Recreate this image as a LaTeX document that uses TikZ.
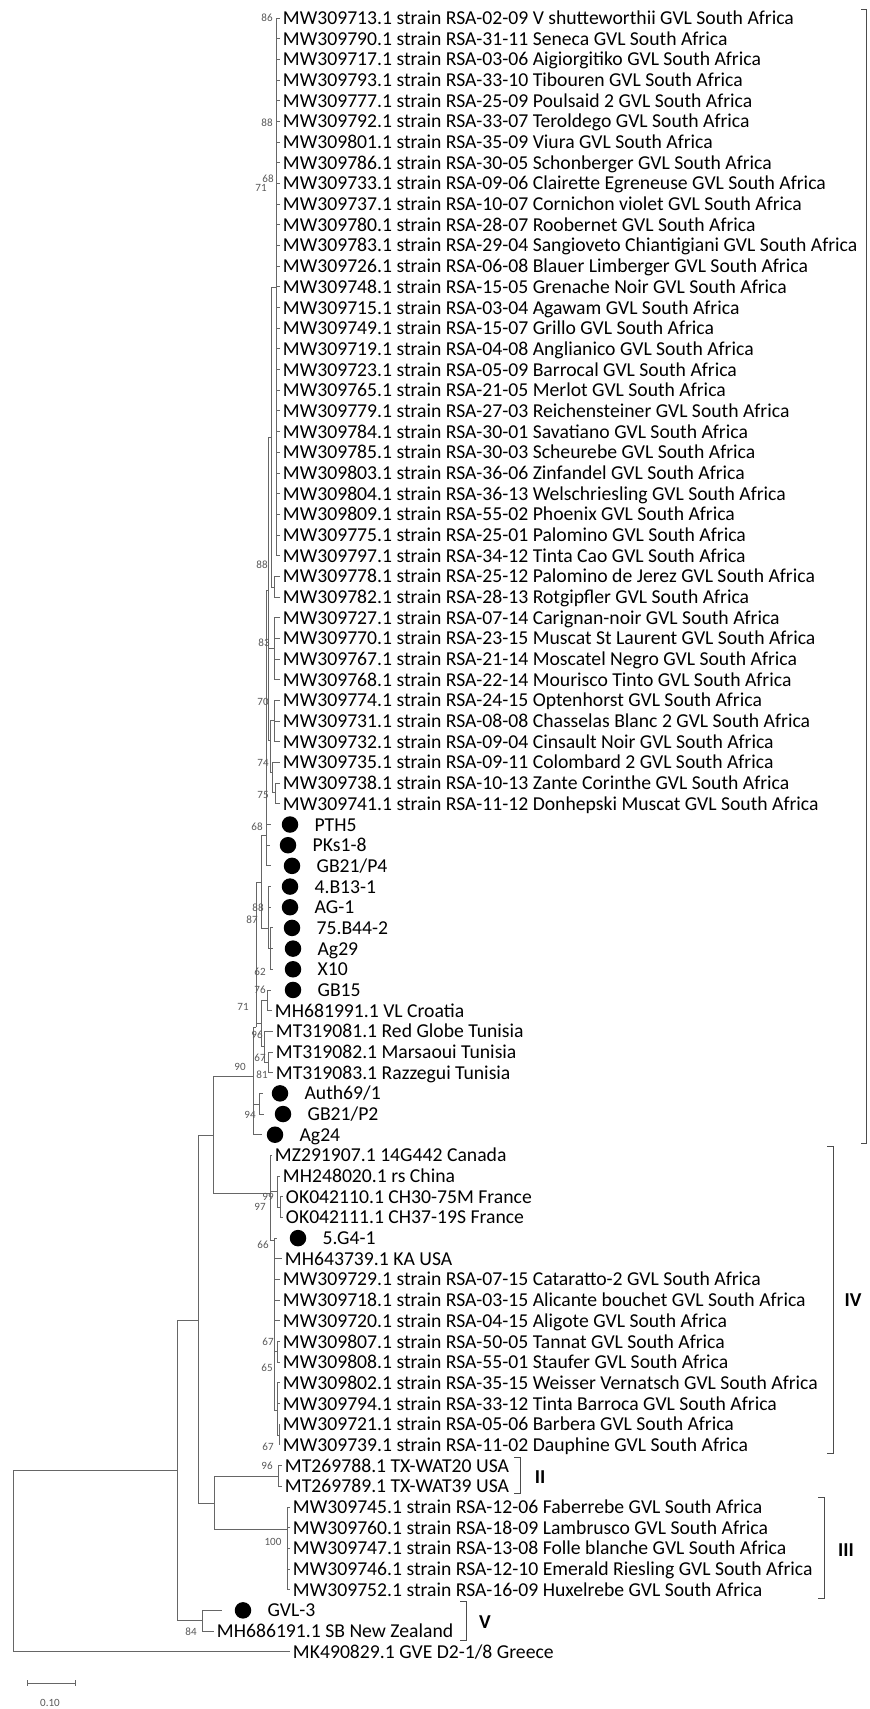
\documentclass[tikz,border=0pt]{standalone}
\usepackage{fontspec}
\setmainfont{Carlito}
\usetikzlibrary{positioning}

% row height of the taxa
\newcommand{\ry}[1]{18+(#1-1)*20.68}

\tikzset{
  br/.style={draw=black!60, line width=0.5pt},
  taxon/.style={anchor=west, inner sep=1.5pt, font=\fontsize{11.2}{12}\selectfont, text height=8.4pt, text depth=1pt},
  iso/.style={circle, fill=black, minimum size=0.33cm, inner sep=0pt},
  boot/.style={font=\fontsize{6.3}{7}\selectfont, text=black!65, inner sep=0pt},
  clade/.style={font=\fontsize{11.2}{12}\selectfont\bfseries, inner sep=0pt},
  bracket/.style={draw=black!70, line width=0.5pt}
}

\begin{document}
\begin{tikzpicture}[x=0.02cm, y=-0.02cm]
    \useasboundingbox (0,0) rectangle (869,1709);

    % South African GVL isolates, clade I
    \foreach \i/\t in {1/MW309713.1 strain RSA-02-09 V shutteworthii, 2/MW309790.1 strain RSA-31-11 Seneca,
        3/MW309717.1 strain RSA-03-06 Aigiorgitiko, 4/MW309793.1 strain RSA-33-10 Tibouren,
        5/MW309777.1 strain RSA-25-09 Poulsaid 2, 6/MW309792.1 strain RSA-33-07 Teroldego,
        7/MW309801.1 strain RSA-35-09 Viura, 8/MW309786.1 strain RSA-30-05 Schonberger,
        9/MW309733.1 strain RSA-09-06 Clairette Egreneuse, 10/MW309737.1 strain RSA-10-07 Cornichon violet,
        11/MW309780.1 strain RSA-28-07 Roobernet, 12/MW309783.1 strain RSA-29-04 Sangioveto Chiantigiani,
        13/MW309726.1 strain RSA-06-08 Blauer Limberger, 14/MW309748.1 strain RSA-15-05 Grenache Noir,
        15/MW309715.1 strain RSA-03-04 Agawam, 16/MW309749.1 strain RSA-15-07 Grillo,
        17/MW309719.1 strain RSA-04-08 Anglianico, 18/MW309723.1 strain RSA-05-09 Barrocal,
        19/MW309765.1 strain RSA-21-05 Merlot, 20/MW309779.1 strain RSA-27-03 Reichensteiner,
        21/MW309784.1 strain RSA-30-01 Savatiano, 22/MW309785.1 strain RSA-30-03 Scheurebe,
        23/MW309803.1 strain RSA-36-06 Zinfandel, 24/MW309804.1 strain RSA-36-13 Welschriesling,
        25/MW309809.1 strain RSA-55-02 Phoenix, 26/MW309775.1 strain RSA-25-01 Palomino,
        27/MW309797.1 strain RSA-34-12 Tinta Cao, 28/MW309778.1 strain RSA-25-12 Palomino de Jerez,
        29/MW309782.1 strain RSA-28-13 Rotgipfler, 30/MW309727.1 strain RSA-07-14 Carignan-noir,
        31/MW309770.1 strain RSA-23-15 Muscat St Laurent, 32/MW309767.1 strain RSA-21-14 Moscatel Negro,
        33/MW309768.1 strain RSA-22-14 Mourisco Tinto, 34/MW309774.1 strain RSA-24-15 Optenhorst,
        35/MW309731.1 strain RSA-08-08 Chasselas Blanc 2, 36/MW309732.1 strain RSA-09-04 Cinsault Noir,
        37/MW309735.1 strain RSA-09-11 Colombard 2, 38/MW309738.1 strain RSA-10-13 Zante Corinthe,
        39/MW309741.1 strain RSA-11-12 Donhepski Muscat} {
        \node[taxon] (r\i) at (280,{\ry{\i}}) {\t{} GVL South Africa};
    }

    % other taxa
    \foreach \i/\x/\t in {49/272/MH681991.1 VL Croatia, 50/273/MT319081.1 Red Globe Tunisia,
        51/273/MT319082.1 Marsaoui Tunisia, 52/273/MT319083.1 Razzegui Tunisia,
        56/272/MZ291907.1 14G442 Canada, 57/280/MH248020.1 rs China,
        58/283/OK042110.1 CH30-75M France, 59/283/OK042111.1 CH37-19S France,
        61/282/MH643739.1 KA USA,
        62/280/MW309729.1 strain RSA-07-15 Cataratto-2 GVL South Africa,
        63/280/MW309718.1 strain RSA-03-15 Alicante bouchet GVL South Africa,
        64/280/MW309720.1 strain RSA-04-15 Aligote GVL South Africa,
        65/280/MW309807.1 strain RSA-50-05 Tannat GVL South Africa,
        66/280/MW309808.1 strain RSA-55-01 Staufer GVL South Africa,
        67/280/MW309802.1 strain RSA-35-15 Weisser Vernatsch GVL South Africa,
        68/280/MW309794.1 strain RSA-33-12 Tinta Barroca GVL South Africa,
        69/280/MW309721.1 strain RSA-05-06 Barbera GVL South Africa,
        70/280/MW309739.1 strain RSA-11-02 Dauphine GVL South Africa,
        71/282/MT269788.1 TX-WAT20 USA, 72/282/MT269789.1 TX-WAT39 USA,
        73/290/MW309745.1 strain RSA-12-06 Faberrebe GVL South Africa,
        74/290/MW309760.1 strain RSA-18-09 Lambrusco GVL South Africa,
        75/290/MW309747.1 strain RSA-13-08 Folle blanche GVL South Africa,
        76/290/MW309746.1 strain RSA-12-10 Emerald Riesling GVL South Africa,
        77/290/MW309752.1 strain RSA-16-09 Huxelrebe GVL South Africa,
        79/214/MH686191.1 SB New Zealand, 80/290/{MK490829.1 GVE D2-1/8 Greece}} {
        \node[taxon] (r\i) at (\x,{\ry{\i}}) {\t};
    }

    % isolates of this study (filled circles)
    \foreach \i/\e/\d/\t in {40/271/290/PTH5, 41/270/288/PKs1-8, 42/271/292/{GB21/P4},
        43/271/290/4.B13-1, 44/271/290/AG-1, 45/273/292/75.B44-2, 46/273/293/Ag29,
        47/273/293/X10, 48/271/293/GB15, 53/263/280/{Auth69/1}, 54/264/283/{GB21/P2},
        55/262/275/Ag24, 60/277/298/5.G4-1, 78/222/243/GVL-3} {
        \coordinate (e\i) at (\e,{\ry{\i}});
        \node[iso] (d\i) at (\d,{\ry{\i}}) {};
        \node[taxon, right=0.26cm of d\i] (r\i) {\t};
    }

    % internal nodes
    \coordinate (root) at (13,1561);
    \coordinate (nA) at (177,1470);
    \coordinate (nB) at (198,1320);
    \coordinate (nV) at (202,1620);
    \coordinate (nC) at (213,1135);
    \coordinate (nE) at (214,1503);
    \coordinate (nII) at (278,1476);
    \coordinate (nIII) at (287,1529);
    \coordinate (nD) at (253,1076);
    \coordinate (nIV) at (270,1193);
    \coordinate (P99) at (277,1191);
    \coordinate (OKn) at (280,1207);
    \coordinate (S66) at (274,1240);
    \coordinate (N67a) at (277,1351);
    \coordinate (N65) at (277,1410);
    \coordinate (N67b) at (279,1435);
    \coordinate (E94) at (259,1104);
    \coordinate (G71) at (256,1027);
    \coordinate (T81) at (261,1023);
    \coordinate (T76) at (267,1000);
    \coordinate (T96) at (264,1046);
    \coordinate (T67) at (268,1062);
    \coordinate (N87) at (261,882);
    \coordinate (N88b) at (268,928);
    \coordinate (N62) at (270,948);
    \coordinate (N68) at (266,835);
    \coordinate (N83) at (268,590);
    \coordinate (N88a) at (271,437);
    \coordinate (Na) at (276,287);
    \coordinate (Nb) at (274,587);
    \coordinate (Nc) at (274,648);
    \coordinate (N70) at (270,740);
    \coordinate (Nd) at (274,720);
    \coordinate (N74) at (272,772);
    \coordinate (Ne) at (275,792);

    % branches
    \foreach \p/\c in {root/nA, root/r80, nA/nB, nA/nV, nV/e78, nV/r79, nB/nC, nB/nE,
        nE/nII, nE/nIII, nII/r71, nII/r72, nC/nD, nC/nIV, nIV/r56, nIV/P99, nIV/S66,
        P99/r57, P99/OKn, OKn/r58, OKn/r59, S66/e60, S66/r61, S66/r62, S66/r63, S66/r64,
        S66/N67a, S66/N65, N67a/r65, N67a/r66, N65/r67, N65/r68, N65/N67b, N67b/r69, N67b/r70,
        nD/G71, nD/E94, nD/e55, E94/e53, E94/e54, G71/N87, G71/T81, T81/T76, T81/T96,
        T76/e48, T76/r49, T96/r50, T96/T67, T67/r51, T67/r52, N87/N68, N87/N88b,
        N88b/e43, N88b/e44, N88b/N62, N62/e45, N62/e46, N62/e47, N68/N83, N68/e40, N68/e41, N68/e42,
        N83/N88a, N83/Nc, N83/N70, N88a/Na, N88a/Nb, Nb/r28, Nb/r29, N70/Nd, N70/N74,
        Nd/r34, Nd/r35, Nd/r36, N74/r37, N74/Ne, Ne/r38, Ne/r39} {
        \draw[br] (\p) |- (\c);
    }
    \foreach \i in {1,...,27} \draw[br] (Na) |- (r\i);
    \foreach \i in {30,...,33} \draw[br] (Nc) |- (r\i);
    \foreach \i in {73,...,77} \draw[br] (nIII) |- (r\i);

    % bootstrap values
    \foreach \x/\y/\v [count=\k] in {267/18/86, 267/123/88, 268/179/68, 261/188/71, 262/565/88,
        264/643/83, 263/702/70, 263/763/74, 263/795/75, 257/827/68, 258/908/88, 252/920/87,
        260/972/62, 260/990/76, 243/1007/71, 257/1035/96, 260/1058/67, 240/1067/90, 262/1075/81,
        250/1115/94, 268/1197/99, 260/1207/97, 263/1245/66, 268/1342/67, 267/1368/65,
        268/1447/67, 267/1466/96, 273/1542/100, 191/1632/84} {
        \node[boot] (bs\k) at (\x,\y) {\v};
    }

    % clade brackets
    \draw[bracket] (861,9) -- (866,9) -- (866,1143) -- (861,1143);
    \draw[bracket] (827,1146) -- (833,1146) -- (833,1453) -- (827,1453);
    \node[clade] (cIV) at (853,1300) {IV};
    \draw[bracket] (514,1457) -- (520,1457) -- (520,1493) -- (514,1493);
    \node[clade] (cII) at (540,1477) {II};
    \draw[bracket] (818,1497) -- (824,1497) -- (824,1598) -- (818,1598);
    \node[clade] (cIII) at (846,1550) {III};
    \draw[bracket] (460,1601) -- (466,1601) -- (466,1640) -- (460,1640);
    \node[clade] (cV) at (485,1622) {V};

    % scale bar
    \coordinate (sb1) at (27,1683);
    \coordinate (sb2) at (75,1683);
    \draw[br] (sb1) -- (sb2);
    \draw[br] (27,1680) -- (27,1686);
    \draw[br] (75,1680) -- (75,1686);
    \node[boot] (sbl) at (50,1703) {0.10};
\end{tikzpicture}
\end{document}
